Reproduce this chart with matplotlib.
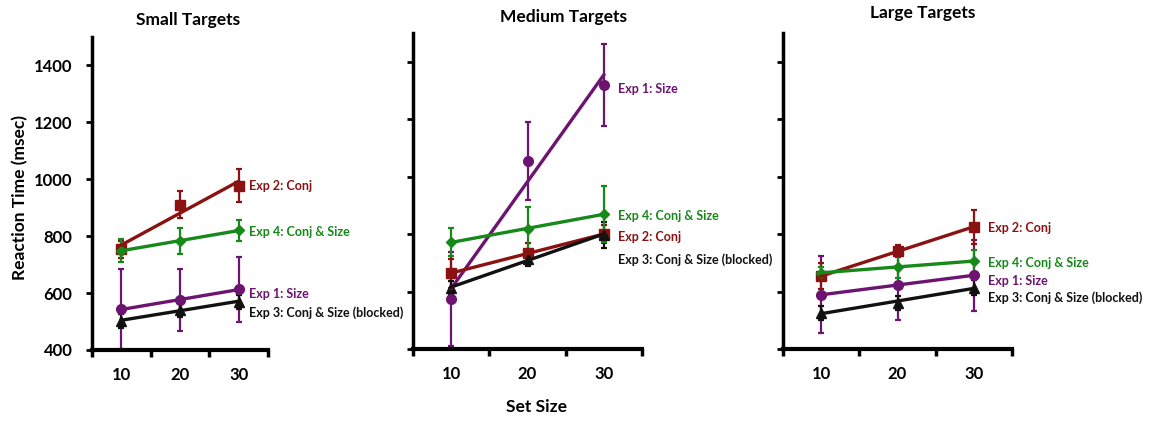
import numpy as np
import matplotlib
matplotlib.use('Agg')
import matplotlib.pyplot as plt

plt.rcParams['font.family'] = ['Lato', 'DejaVu Sans']
plt.rcParams['font.weight'] = 'bold'

set_size = [10, 20, 30]

# Small targets
small_exp1 = [543, 576, 613]
small_exp1_err = [140, 108, 115]
small_exp2 = [754, 911, 978]
small_exp2_err = [30, 47, 57]
small_exp3 = [503, 541, 570]
small_exp3_err = [25, 25, 25]
small_exp4 = [749, 784, 820]
small_exp4_err = [40, 46, 38]

# Medium targets
medium_exp1 = [574, 1055, 1318]
medium_exp1_err = [163, 135, 142]
medium_exp2 = [664, 733, 800]
medium_exp2_err = [50, 35, 30]
medium_exp3 = [612, 715, 797]
medium_exp3_err = [25, 25, 45]
medium_exp4 = [772, 818, 870]
medium_exp4_err = [49, 75, 98]

# Large targets
large_exp1 = [589, 622, 657]
large_exp1_err = [133, 122, 124]
large_exp2 = [653, 741, 825]
large_exp2_err = [45, 20, 60]
large_exp3 = [526, 561, 614]
large_exp3_err = [25, 25, 25]
large_exp4 = [665, 686, 706]
large_exp4_err = [20, 40, 40]

series_names = ['Exp 1: Size', 'Exp 2: Conj', 'Exp 3: Conj & Size (blocked)', 'Exp 4: Conj & Size']
colors = ['#6c1470', '#8b1212', '#111111', '#16891a']
markers = ['o', 's', '^', 'D']
msizes = [7, 7, 6.5, 5]

panels = [
    ('Small Targets',
     [small_exp1, small_exp2, small_exp3, small_exp4],
     [small_exp1_err, small_exp2_err, small_exp3_err, small_exp4_err],
     [597, 977, 530, 815]),
    ('Medium Targets',
     [medium_exp1, medium_exp2, medium_exp3, medium_exp4],
     [medium_exp1_err, medium_exp2_err, medium_exp3_err, medium_exp4_err],
     [1306, 790, 710, 863]),
    ('Large Targets',
     [large_exp1, large_exp2, large_exp3, large_exp4],
     [large_exp1_err, large_exp2_err, large_exp3_err, large_exp4_err],
     [636, 820, 580, 699]),
]

# axes boxes in pixels: left, right, bottom, top
boxes = [(92, 268, 350, 37), (413, 642, 349, 33), (783, 1012, 349, 33)]
title_pos = [(188, 20), (564, 17), (923, 13)]
W, H = 1150, 421

fig = plt.figure(figsize=(W / 100, H / 100), dpi=100)
xs = np.array(set_size)

for i, (title, vals, errs, label_y) in enumerate(panels):
    l, r, b, t = boxes[i]
    ax = fig.add_axes([l / W, 1 - b / H, (r - l) / W, (b - t) / H])
    ax.set_clip_on(False)
    for k in range(4):
        y = np.array(vals[k])
        ax.errorbar(xs, y, yerr=errs[k], fmt='none', ecolor=colors[k],
                    elinewidth=1.6, capsize=2.5, capthick=1.6, zorder=2,
                    clip_on=False)
        ax.plot(xs, y, linestyle='none', marker=markers[k], ms=msizes[k],
                color=colors[k], zorder=3, clip_on=False)
        slope, icpt = np.polyfit(xs, y, 1)
        ax.plot(xs, slope * xs + icpt, color=colors[k], lw=2.4, zorder=4,
                clip_on=False)
        ax.text(31.8, label_y[k], series_names[k], color=colors[k],
                fontsize=9, fontweight='bold', va='center', ha='left',
                clip_on=False)

    ax.set_xlim(5, 35)
    ax.set_ylim(400, 1500)
    ax.set_yticks(range(400, 1401, 200))
    ax.set_xticks(set_size)
    ax.set_xticks([5, 15, 25, 35], minor=True)
    ax.tick_params(axis='x', which='major', length=0, pad=12, labelsize=12)
    ax.tick_params(axis='x', which='minor', length=5, width=2.5, direction='out')
    ax.tick_params(axis='y', length=4, width=2, direction='out', pad=10, labelsize=12)
    if i > 0:
        ax.tick_params(axis='y', labelleft=False)
    for lab in ax.get_xticklabels() + ax.get_yticklabels():
        lab.set_fontweight('bold')
    ax.spines['top'].set_visible(False)
    ax.spines['right'].set_visible(False)
    ax.spines['left'].set_linewidth(2.5)
    ax.spines['bottom'].set_linewidth(3)

    tx, ty = title_pos[i]
    fig.text(tx / W, 1 - ty / H, title, ha='center', va='center',
             fontsize=12.5, fontweight='bold')

fig.text(20 / W, 1 - 198 / H, 'Reaction Time (msec)', rotation=90,
         ha='center', va='center', fontsize=12.5, fontweight='bold')
fig.text(537 / W, 1 - 407 / H, 'Set Size', ha='center', va='center',
         fontsize=12.5, fontweight='bold')

fig.savefig('out.png', dpi=100)
